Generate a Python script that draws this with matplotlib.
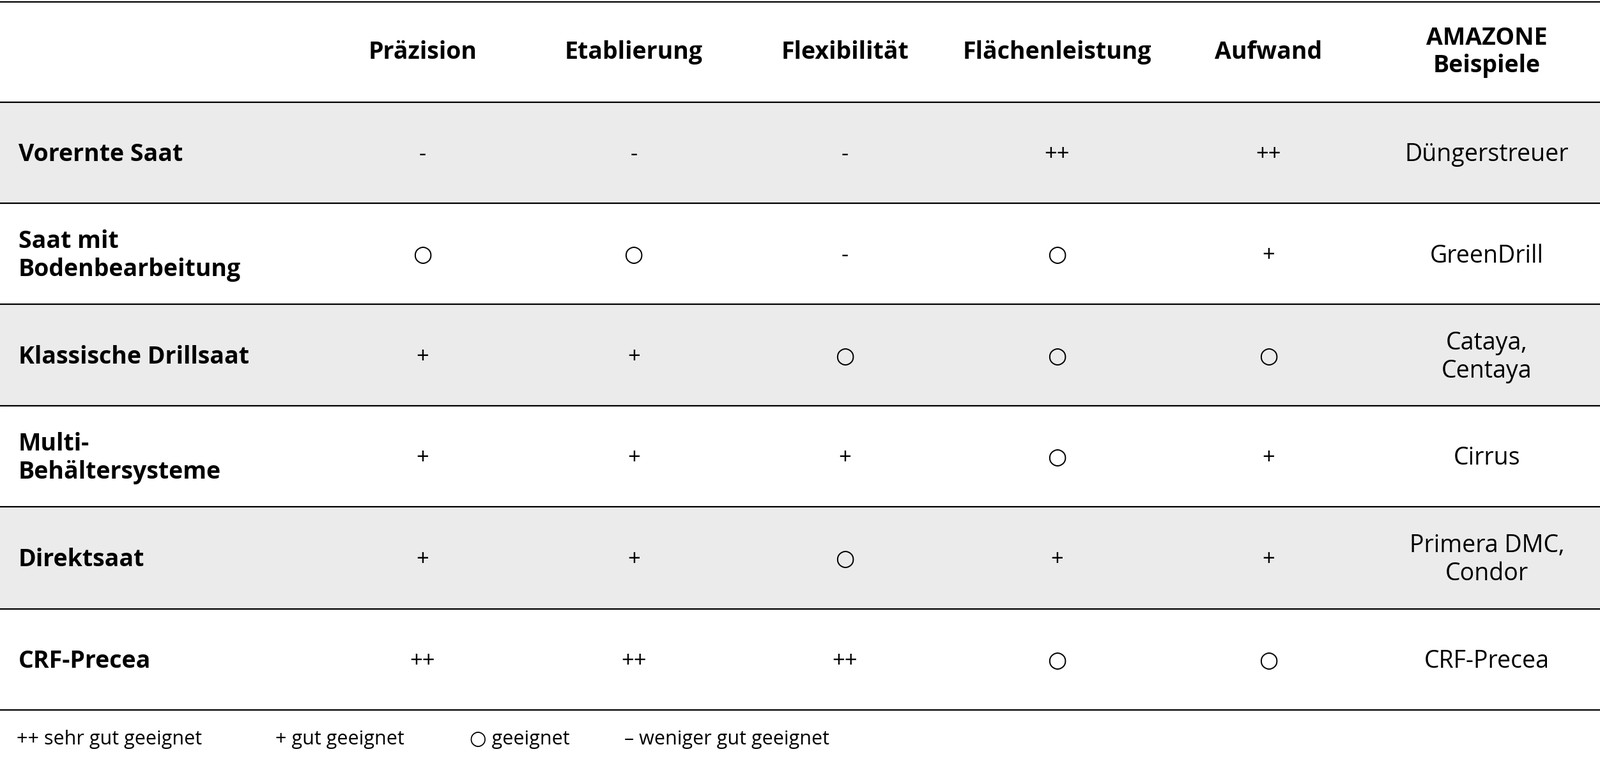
import matplotlib.pyplot as plt
from matplotlib.patches import Rectangle

columns = ["Präzision", "Etablierung", "Flexibilität", "Flächenleistung", "Aufwand", "AMAZONE\nBeispiele"]
rows = ["Vorernte Saat", "Saat mit\nBodenbearbeitung", "Klassische Drillsaat",
        "Multi-\nBehältersysteme", "Direktsaat", "CRF-Precea"]
ratings = [
    ["-", "-", "-", "++", "++"],
    ["○", "○", "-", "○", "+"],
    ["+", "+", "○", "○", "○"],
    ["+", "+", "+", "○", "+"],
    ["+", "+", "○", "+", "+"],
    ["++", "++", "++", "○", "○"],
]
examples = ["Düngerstreuer", "GreenDrill", "Cataya,\nCentaya", "Cirrus",
            "Primera DMC,\nCondor", "CRF-Precea"]
legend = ["++ sehr gut geeignet", "+ gut geeignet", "○ geeignet", "– weniger gut geeignet"]

W, H = 1568, 747
col_x = [414, 621, 828, 1036, 1243, 1457]
row_edges = [100, 199, 298, 397, 496, 596, 695]
font = ["Open Sans", "DejaVu Sans"]

fig = plt.figure(figsize=(25.04, 11.94), dpi=100)
ax = fig.add_axes([0, 0, 1, 1])
ax.set_xlim(0, W)
ax.set_ylim(H, 0)
ax.axis("off")

for i in range(len(rows)):
    top, bot = row_edges[i], row_edges[i + 1]
    if i % 2 == 0:
        ax.add_patch(Rectangle((0, top), W, bot - top, color="#ebebeb", zorder=0))
for y in [2] + row_edges:
    ax.plot([0, W], [y, y], color="black", lw=1.6, zorder=2)

for x, c in zip(col_x, columns):
    ax.text(x, 51, c, ha="center", va="center", fontsize=27, fontweight="bold",
            family=font, linespacing=1.15)

for i, r in enumerate(rows):
    yc = (row_edges[i] + row_edges[i + 1]) / 2
    ax.text(18, yc + 2, r, ha="left", va="center", fontsize=27, fontweight="bold",
            family=font, linespacing=1.2)
    for j, v in enumerate(ratings[i]):
        ax.text(col_x[j], yc + 2, v, ha="center", va="center", fontsize=25, family=font)
    ax.text(col_x[5], yc + 2, examples[i], ha="center", va="center", fontsize=27,
            family=font, linespacing=1.2)

for x, t in zip([16, 270, 460, 612], legend):
    ax.text(x, 724, t, ha="left", va="center", fontsize=22, family=font)

fig.savefig("out.png", dpi=100)
